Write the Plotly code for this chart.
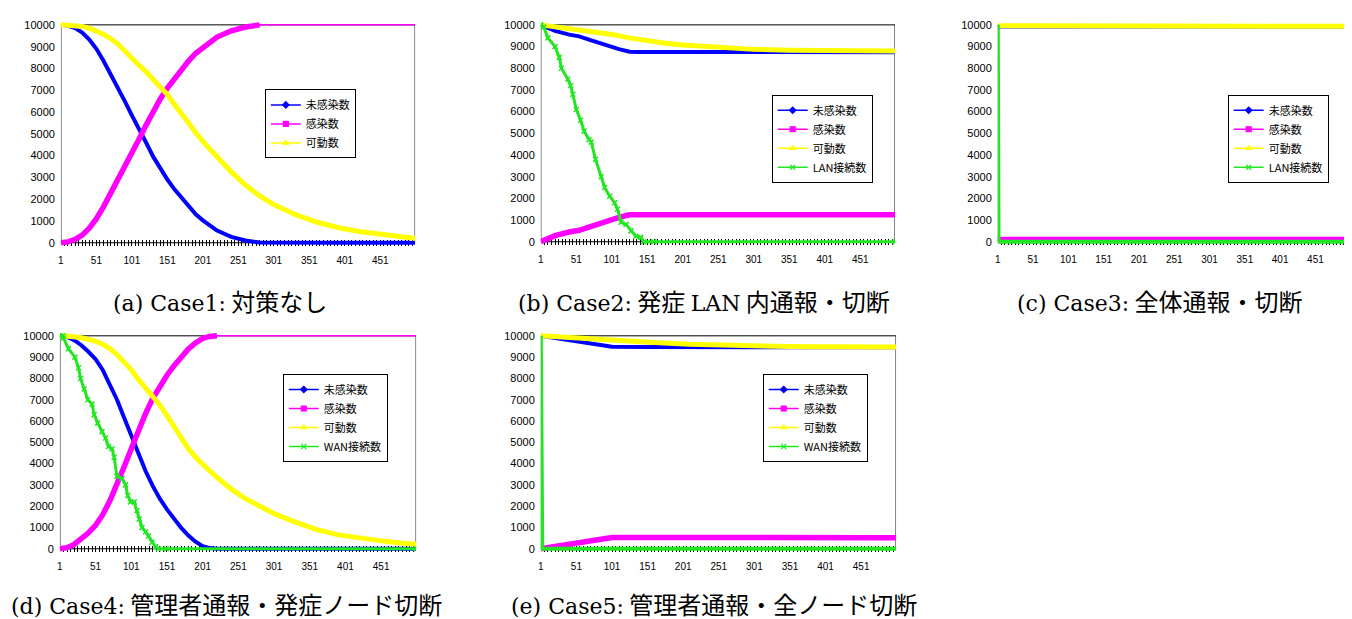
import plotly.graph_objects as go

# ---------------- data ----------------
# Case1
A_X = [1, 11, 21, 31, 41, 51, 61, 71, 81, 91, 101, 111, 121, 131, 141, 151, 161, 171, 181, 191,
       201, 221, 241, 261, 281, 301, 331, 361, 391, 421, 451, 481, 500]
A_UNINF = [10000, 9960, 9850, 9650, 9330, 8900, 8350, 7750, 7150, 6500, 5850, 5250, 4600, 3950, 3400,
           2900, 2450, 2050, 1650, 1300, 1030, 560, 270, 100, 10, 0, 0, 0, 0, 0, 0, 0, 0]
A_INF = [0, 40, 150, 350, 670, 1100, 1650, 2250, 2850, 3500, 4150, 4750, 5400, 6050, 6600,
         7100, 7550, 7950, 8350, 8700, 8970, 9440, 9730, 9900, 10000, 10000, 10000, 10000, 10000,
         10000, 10000, 10000, 10000]
A_MOV = [10000, 9995, 9975, 9930, 9850, 9730, 9570, 9370, 9130, 8800, 8450, 8150, 7850, 7500, 7150,
         6800, 6350, 5950, 5500, 5050, 4650, 3950, 3250, 2650, 2150, 1750, 1300, 950, 700, 520,
         380, 270, 210]

# Case2
B_X1 = [1, 21, 41, 55, 71, 93, 111, 126, 141, 500]
B_UNINF = [10000, 9720, 9550, 9470, 9300, 9055, 8880, 8760, 8750, 8740]
B_INF = [0, 280, 450, 530, 700, 945, 1120, 1240, 1250, 1250]
B_X2 = [1, 26, 51, 76, 101, 126, 151, 176, 201, 251, 301, 351, 401, 500]
B_MOV = [10000, 9900, 9790, 9680, 9560, 9400, 9260, 9150, 9070, 8950, 8870, 8830, 8800, 8790]
B_X3 = [1, 5, 11, 21, 27, 30, 39, 43, 46, 51, 57, 62, 69, 72, 78, 86, 91, 98, 105, 109, 114,
        121, 128, 135, 142, 146, 160, 500]
B_LAN = [10000, 9900, 9400, 9000, 8500, 8000, 7500, 7200, 6800, 6100, 5600, 5100, 4700, 4600,
         3800, 3000, 2500, 2100, 1800, 1500, 900, 800, 500, 250, 200, 0, 0, 0]

# Case3
C_X = [1, 2, 500]
C_UNINF = [10000, 9930, 9920]
C_INF = [0, 100, 100]
C_MOV = [10000, 9960, 9930]
C_LAN = [10000, 0, 0]

# Case4
D_X = [1, 11, 21, 31, 41, 51, 61, 71, 81, 91, 101, 111, 121, 131, 141, 151, 161, 171, 181, 191,
       201, 211, 221, 241, 261, 281, 301, 331, 361, 391, 421, 451, 481, 500]
D_UNINF = [10000, 9950, 9800, 9560, 9250, 8900, 8400, 7750, 7000, 6150, 5300, 4450, 3650, 2950,
           2350, 1850, 1400, 980, 620, 330, 120, 30, 0, 0, 0, 0, 0, 0, 0, 0, 0, 0, 0, 0]
D_INF = [0, 50, 200, 440, 750, 1100, 1600, 2250, 3000, 3850, 4700, 5550, 6350, 7050, 7650, 8150,
         8600, 9020, 9380, 9670, 9880, 9970, 10000, 10000, 10000, 10000, 10000, 10000, 10000,
         10000, 10000, 10000, 10000, 10000]
D_MOV = [10000, 9990, 9960, 9910, 9850, 9750, 9600, 9400, 9120, 8800, 8400, 7950, 7550, 7200,
         6750, 6250, 5700, 5150, 4700, 4300, 3950, 3650, 3350, 2800, 2350, 2000, 1650, 1250, 900,
         650, 500, 370, 260, 210]
D_X2 = [1, 5, 6, 13, 22, 27, 30, 35, 40, 46, 49, 54, 60, 65, 69, 74, 77, 81, 88, 93, 96, 100,
        105, 109, 112, 116, 121, 125, 130, 135, 139, 150, 500]
D_WAN = [10000, 10000, 9900, 9400, 9000, 8500, 8000, 7500, 7000, 6800, 6300, 5900, 5500, 5200,
         4800, 4700, 4300, 3400, 3300, 3000, 2500, 2200, 2200, 1800, 1400, 1000, 800, 600, 300,
         100, 0, 0, 0]

# Case5
E_X1 = [1, 101, 151, 201, 301, 401, 500]
E_UNINF = [10000, 9490, 9480, 9470, 9460, 9460, 9460]
E_X2 = [1, 101, 500]
E_INF = [0, 530, 520]
E_X3 = [1, 46, 102, 153, 210, 256, 303, 350, 400, 500]
E_MOV = [10000, 9900, 9800, 9700, 9600, 9550, 9520, 9500, 9490, 9480]
E_X4 = [1, 3, 500]
E_WAN = [10000, 0, 0]

NAMES = ["未感染数", "感染数", "可動数"]
TICK_VALS = [1, 51, 101, 151, 201, 251, 301, 351, 401, 451]
Y_TICKS = list(range(0, 10001, 1000))
X_MIN, X_MAX, Y_MIN, Y_MAX = 1, 500, 0, 10000

SERIF = "<span style=\"font-family:'DejaVu Serif';font-size:22px\">"
CAPTIONS = [
    SERIF + "(a) Case1:</span> 対策なし",
    SERIF + "(b) Case2:</span> 発症 " + SERIF + "LAN</span> 内通報・切断",
    SERIF + "(c) Case3:</span> 全体通報・切断",
    SERIF + "(d) Case4:</span> 管理者通報・発症ノード切断",
    SERIF + "(e) Case5:</span> 管理者通報・全ノード切断",
]

# ---------------- style ----------------
W, H = 1352, 619
BLUE, MAG, YEL, GRN = "#0000ff", "#ff00ff", "#ffff00", "#22e622"
JP = "Noto Sans CJK JP"
PAD = 150  # extra room so thick lines on the frame are not cut in half

panels = [
    dict(rect=(50, 405, 14, 234), leg=(300, 114), cap=(209, 292),
         series=[(A_X, A_UNINF, BLUE, 4), (A_X, A_INF, MAG, 5.5), (A_X, A_MOV, YEL, 5)],
         last=None),
    dict(rect=(531, 886, 14, 233), leg=(813, 129), cap=(695, 292),
         series=[(B_X1, B_UNINF, BLUE, 4), (B_X1, B_INF, MAG, 5.5), (B_X2, B_MOV, YEL, 5)],
         last=("LAN接続数", B_X3, B_LAN, True)),
    dict(rect=(989, 1342, 14, 233), leg=(1270, 129), cap=(1152, 292),
         series=[(C_X, C_UNINF, BLUE, 4), (C_X, C_INF, MAG, 5.5), (C_X, C_MOV, YEL, 5)],
         last=("LAN接続数", C_X, C_LAN, False)),
    dict(rect=(49, 406, 328, 543), leg=(325, 411), cap=(216, 598),
         series=[(D_X, D_UNINF, BLUE, 4), (D_X, D_INF, MAG, 5.5), (D_X, D_MOV, YEL, 5)],
         last=("WAN接続数", D_X2, D_WAN, True)),
    dict(rect=(531, 887, 328, 543), leg=(806, 411), cap=(705, 598),
         series=[(E_X1, E_UNINF, BLUE, 4), (E_X2, E_INF, MAG, 5.5), (E_X3, E_MOV, YEL, 5)],
         last=("WAN接続数", E_X4, E_WAN, False)),
]

SYMS = ["diamond", "square", "triangle-up", "x-thin"]

fig = go.Figure()
layout = {}
annotations = []
shapes = []
for i, p in enumerate(panels):
    n = "" if i == 0 else str(i + 1)
    xa, ya = "x" + n, "y" + n
    leg = "legend" + n
    x0, x1, y0, y1 = p["rect"]
    pad_px = (y1 - y0) * PAD / (Y_MAX - Y_MIN)
    layout["xaxis" + n] = dict(
        domain=[x0 / W, x1 / W], anchor=ya, range=[X_MIN, X_MAX], tickvals=TICK_VALS,
        ticks="inside", ticklen=6, tickcolor="black", layer="below traces",
        minor=dict(tick0=1, dtick=5, ticks="inside", ticklen=6, tickcolor="black"),
        showline=False, showgrid=False, zeroline=False, ticklabelstandoff=7,
        tickfont=dict(family="Liberation Sans", size=10, color="black"))
    layout["yaxis" + n] = dict(
        domain=[1 - (y1 + pad_px) / H, 1 - (y0 - pad_px) / H], anchor=xa,
        range=[Y_MIN - PAD, Y_MAX + PAD], tickvals=Y_TICKS,
        ticktext=[str(v) for v in Y_TICKS], layer="below traces",
        ticks="", showline=False, showgrid=False, zeroline=False, ticklabelstandoff=5,
        tickfont=dict(family="Liberation Sans", size=11, color="black"))
    # plot-area frame at the data limits
    shapes.append(dict(type="rect", xref=xa, yref=ya, x0=X_MIN, x1=X_MAX, y0=Y_MIN, y1=Y_MAX,
                       line=dict(color="black", width=1), layer="below"))
    lx, ly = p["leg"]
    layout[leg] = dict(x=lx / W, y=1 - ly / H, xanchor="center", yanchor="middle",
                       bgcolor="white", bordercolor="black", borderwidth=1,
                       font=dict(family=JP, size=11, color="black"),
                       itemwidth=30, tracegroupgap=0, traceorder="normal")

    for k, (xs, ys, col, w) in enumerate(p["series"]):
        # the source draws the infected series thin once it saturates at the top
        cut = ys.index(Y_MAX) if (col == MAG and max(ys) >= Y_MAX) else None
        if cut is not None:
            fig.add_trace(go.Scatter(x=xs[:cut + 1], y=ys[:cut + 1], mode="lines",
                                     line=dict(color=col, width=w), xaxis=xa, yaxis=ya,
                                     showlegend=False, hoverinfo="skip"))
            fig.add_trace(go.Scatter(x=xs[cut:], y=ys[cut:], mode="lines",
                                     line=dict(color=col, width=1.5), xaxis=xa, yaxis=ya,
                                     showlegend=False, hoverinfo="skip"))
        else:
            fig.add_trace(go.Scatter(x=xs, y=ys, mode="lines", line=dict(color=col, width=w),
                                     xaxis=xa, yaxis=ya, showlegend=False, hoverinfo="skip"))
    if p["last"] is not None:
        name, xs, ys, mk = p["last"]
        if mk:
            fig.add_trace(go.Scatter(x=xs, y=ys, mode="lines+markers",
                                     line=dict(color=GRN, width=3),
                                     marker=dict(symbol="x-thin", size=5,
                                                 line=dict(color=GRN, width=1.5)),
                                     xaxis=xa, yaxis=ya, showlegend=False, hoverinfo="skip"))
        else:
            fig.add_trace(go.Scatter(x=xs, y=ys, mode="lines", line=dict(color=GRN, width=4),
                                     xaxis=xa, yaxis=ya, showlegend=False, hoverinfo="skip"))
    # legend entries
    names = NAMES + ([p["last"][0]] if p["last"] is not None else [])
    cols = [BLUE, MAG, YEL, GRN]
    for k, nm in enumerate(names):
        fig.add_trace(go.Scatter(x=[None], y=[None], mode="lines+markers", name=nm,
                                 line=dict(color=cols[k], width=1.5),
                                 marker=dict(symbol=SYMS[k], size=5, color=cols[k],
                                             line=dict(color=cols[k], width=1.2)),
                                 xaxis=xa, yaxis=ya, legend=leg, showlegend=True))
    cx, cy = p["cap"]
    annotations.append(dict(x=cx / W, y=1 - cy / H, xref="paper", yref="paper",
                            xanchor="center", yanchor="middle", showarrow=False,
                            text=CAPTIONS[i], font=dict(family=JP, size=24, color="black")))

fig.update_layout(**layout)
fig.update_layout(width=W, height=H, margin=dict(l=0, r=0, t=0, b=0),
                  paper_bgcolor="white", plot_bgcolor="white",
                  annotations=annotations, shapes=shapes)
fig.write_html("out.html")
